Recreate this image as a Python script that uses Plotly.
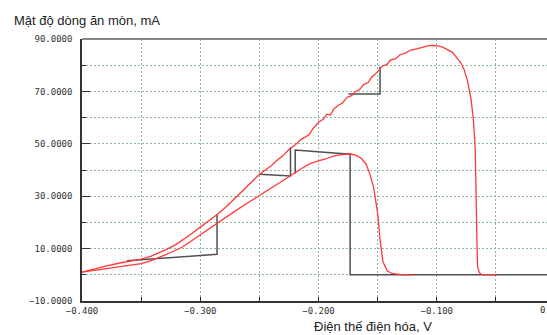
import plotly.graph_objects as go

# Upper polarization curve (reaches ~87 mA)
x_curve1 = [-0.400, -0.390, -0.380, -0.368, -0.358, -0.350, -0.342, -0.335, -0.328, -0.320,
            -0.315, -0.308, -0.300, -0.293, -0.286, -0.278,
            -0.270, -0.260, -0.250, -0.245, -0.240, -0.235, -0.230, -0.225, -0.220, -0.215,
            -0.212, -0.208, -0.205, -0.200, -0.196, -0.193, -0.190, -0.187, -0.183, -0.180,
            -0.176, -0.172, -0.169, -0.165, -0.162, -0.158, -0.155, -0.152, -0.148, -0.146,
            -0.142, -0.139, -0.135, -0.131, -0.127, -0.122, -0.117, -0.112, -0.107, -0.103,
            -0.099, -0.095, -0.091, -0.087, -0.083, -0.080, -0.077, -0.074, -0.071, -0.069,
            -0.0675, -0.067, -0.066, -0.0655, -0.064, -0.062, -0.055, -0.049]
y_curve1 = [1.0, 2.2, 3.3, 4.5, 5.3, 6.0, 7.0, 8.3, 9.8, 11.7,
            13.2, 15.5, 18.2, 20.4, 22.9, 26.0,
            29.6, 34.0, 38.3, 40.0, 41.6, 43.7, 45.5, 47.8, 49.4, 51.6,
            52.3, 53.4, 55.6, 58.2, 59.4, 61.3, 61.0, 63.3, 64.8, 65.4,
            67.7, 68.4, 69.9, 70.8, 72.6, 73.4, 75.5, 76.6, 78.6, 79.6,
            80.4, 82.0, 82.4, 84.0, 84.5, 85.8, 86.2, 86.9, 87.5, 87.6,
            87.4, 86.9, 86.1, 85.0, 82.8, 81.2, 78.5, 74.0, 67.0, 59.0,
            48.0, 30.0, 12.0, 3.0, 0.8, 0.1, 0.0, 0.0]

# Lower polarization curve (reaches ~46 mA)
x_curve2 = [-0.400, -0.385, -0.368, -0.350, -0.342, -0.334, -0.325, -0.315, -0.308, -0.300,
            -0.293, -0.286, -0.278, -0.270, -0.260, -0.250,
            -0.235, -0.224, -0.215, -0.207, -0.200, -0.194, -0.187, -0.180, -0.173, -0.168,
            -0.164, -0.160, -0.157, -0.1535, -0.150, -0.148, -0.1455, -0.142, -0.138, -0.130,
            -0.120]
y_curve2 = [1.0, 2.0, 3.3, 4.3, 5.3, 6.7, 8.5, 10.6, 12.8, 15.2,
            17.3, 19.5, 22.0, 24.5, 27.4, 30.2,
            34.5, 37.7, 40.4, 42.4, 43.5, 44.2, 45.4, 45.9, 46.1, 45.6,
            44.5, 42.5, 39.0, 33.6, 23.5, 13.5, 5.0, 1.5, 0.5, 0.1,
            0.0]

# Black Tafel/step construction lines (None separates pieces)
x_steps = [-0.362, -0.2858, -0.2858, None,
           -0.250, -0.2237, -0.2237, None,
           -0.2197, -0.2197, -0.1733, -0.1733, 0.0, None,
           -0.1747, -0.148, -0.148]
y_steps = [5.4, 7.8, 23.0, None,
           38.4, 37.7, 48.7, None,
           38.7, 47.6, 46.0, 0.0, 0.0, None,
           69.0, 69.0, 79.4]

y_title = "Mật độ dòng ăn mòn, mA"
x_title = "Điện thế điện hóa, V"

fig = go.Figure()
fig.add_trace(go.Scatter(x=x_steps, y=y_steps, mode="lines",
                         line=dict(color="#505050", width=1.5), connectgaps=False,
                         showlegend=False))
fig.add_trace(go.Scatter(x=x_curve1, y=y_curve1, mode="lines",
                         line=dict(color="#ff3838", width=1.3), showlegend=False))
fig.add_trace(go.Scatter(x=x_curve2, y=y_curve2, mode="lines",
                         line=dict(color="#ff3838", width=1.3), showlegend=False))

grid_col = "#8ab59a"
grid_dash = "2px,2px"
tick_font = dict(family="DejaVu Sans Mono", size=9, color="#333333")

fig.update_layout(
    width=547, height=335,
    margin=dict(l=82, r=0, t=39, b=34),
    paper_bgcolor="white", plot_bgcolor="white",
    xaxis=dict(range=[-0.4, -0.0068], tick0=-0.4, dtick=0.1, tickformat=".3f",
               showgrid=True, gridcolor=grid_col, griddash=grid_dash, gridwidth=1,
               ticks="inside", ticklen=4, tickcolor="#222", tickfont=tick_font,
               showline=True, linecolor="#333", linewidth=1.5, zeroline=False,
               minor=dict(dtick=0.05, tick0=-0.4, showgrid=True, gridcolor=grid_col,
                          griddash=grid_dash, ticks="inside", ticklen=4, tickcolor="#222")),
    yaxis=dict(range=[-10, 90], tick0=-10, dtick=20, tickformat=".4f",
               showgrid=True, gridcolor=grid_col, griddash=grid_dash, gridwidth=1,
               ticks="inside", ticklen=8, tickcolor="#333", tickfont=tick_font,
               ticklabelstandoff=6,
               showline=True, linecolor="#333", linewidth=1.5, zeroline=False,
               minor=dict(dtick=10, tick0=-10, showgrid=True, gridcolor=grid_col,
                          griddash=grid_dash, ticks="inside", ticklen=4, tickcolor="#333")),
    shapes=[dict(type="line", xref="paper", yref="paper", x0=0, x1=1.01, y0=1, y1=1,
                 line=dict(color="#888888", width=2))],
    annotations=[
        dict(text=y_title, xref="paper", yref="paper", x=-0.1505, y=1.0698,
             xanchor="left", yanchor="middle", showarrow=False,
             font=dict(family="Liberation Sans", size=13, color="#222")),
        dict(text=x_title, xref="paper", yref="paper", x=0.6258, y=-0.098,
             xanchor="center", yanchor="middle", showarrow=False,
             font=dict(family="Liberation Sans", size=13, color="#222")),
        dict(text="0", xref="paper", yref="paper", x=1.0, y=-0.036,
             xanchor="right", yanchor="middle", showarrow=False,
             font=tick_font),
    ],
)

fig.write_html("out.html")
